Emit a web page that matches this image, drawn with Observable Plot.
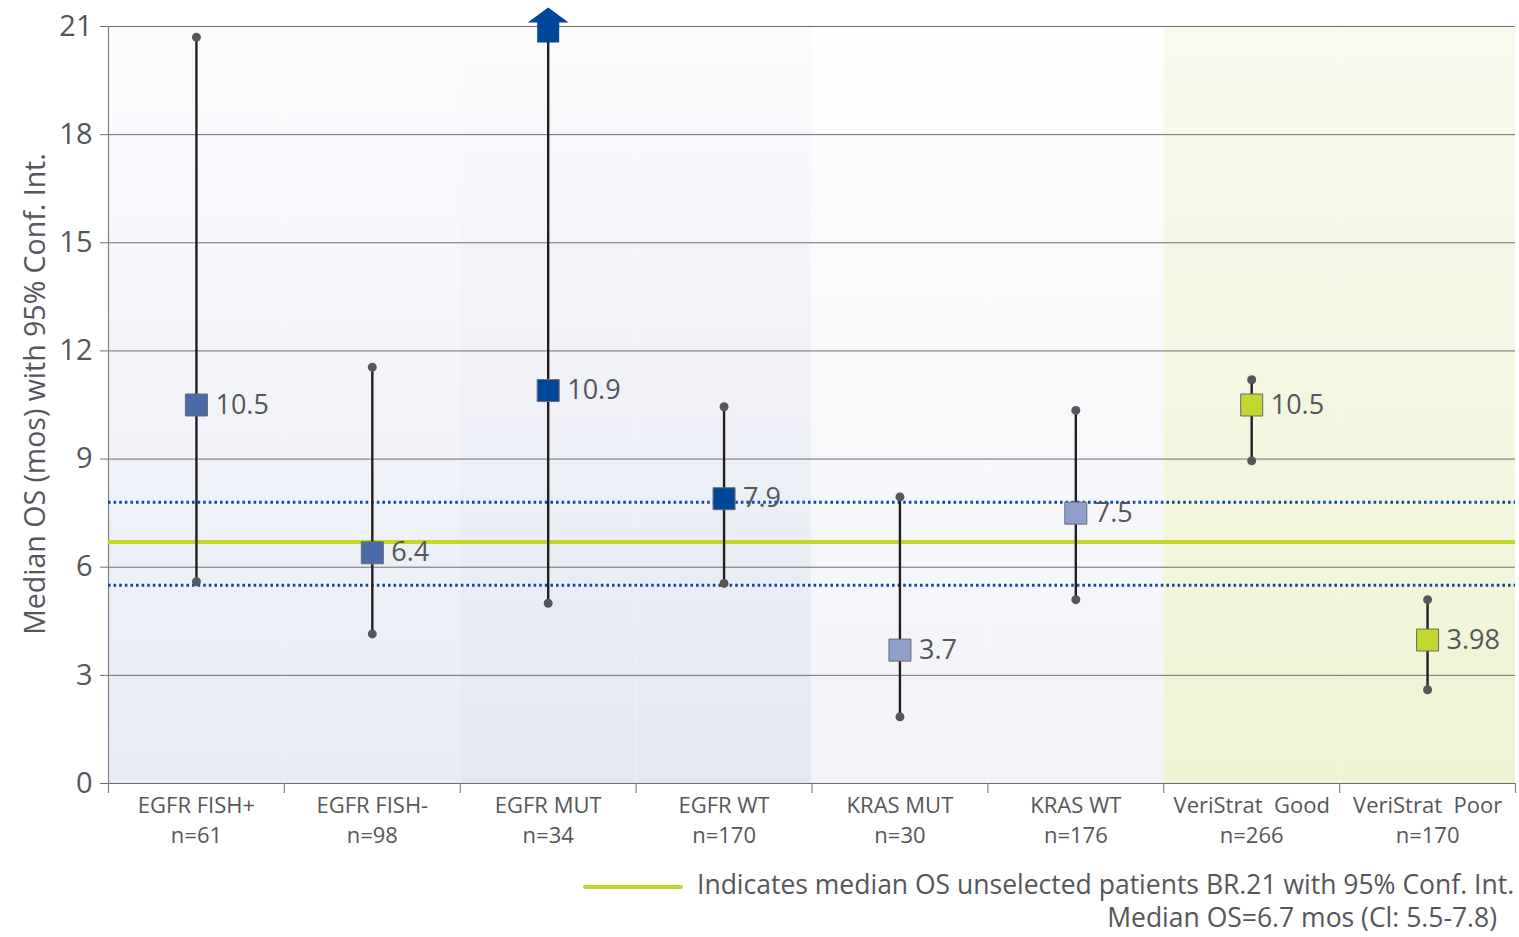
<!DOCTYPE html>
<html><head><meta charset="utf-8">
<script src="https://cdn.jsdelivr.net/npm/d3@7"></script>
<script src="https://cdn.jsdelivr.net/npm/@observablehq/plot@0.6"></script>
<style>
body{margin:0;background:#fff;font-family:"Open Sans",sans-serif;}
#wrap{position:relative;width:1519px;height:937px;overflow:hidden;}
svg text{white-space:pre;}
.leg{position:absolute;color:#555659;font-family:"Open Sans",sans-serif;font-size:26.5px;white-space:nowrap;line-height:1;}
</style></head><body><div id="wrap"></div>
<script>
// ---- data ----
const categories = ["EGFR FISH+","EGFR FISH-","EGFR MUT","EGFR WT","KRAS MUT","KRAS WT","VeriStrat\u00a0 Good","VeriStrat\u00a0 Poor"];
const sampleSizes = [61,98,34,170,30,176,266,170];
const groups = ["fish","fish","mut","mut","kras","kras","veri","veri"];
const medians = [10.5,6.4,10.9,7.9,3.7,7.5,10.5,3.98];
const ciLower = [5.6,4.15,5.0,5.55,1.85,5.1,8.95,2.6];
const ciUpper = [20.7,11.55,null,10.45,7.95,10.35,11.2,5.1];
const yTicks = [0,3,6,9,12,15,18,21];
const refMedian = [6.7];
const refCI = [5.5,7.8];

const groupColors = {fish:"#4a6aa8", mut:"#00479a", kras:"#8e9fcb", veri:"#c3d72e"};
const bgGradients = {fish:["#fcfcfe","#e8ebf5"], mut:["#fbfbfd","#e4e7f2"], kras:["#fefefe","#f2f3f8"], veri:["#f8faee","#eef3d3"]};

const data = categories.map((c,i)=>({cat:c, n:sampleSizes[i], group:groups[i], med:medians[i], lo:ciLower[i], hi:ciUpper[i]}));
const yMax = 21;

const W = 1519, H = 850, mL = 108, mR = 4, mT = 26, mB = 67;
const bw = (W - mL - mR) / categories.length;
const frameH = H - mT - mB;
const txt = "#555659";
const font = "'Open Sans', sans-serif";

const defs = () => {
  const s = d3.create("svg:defs");
  for (const [g, [c0, c1]] of Object.entries(bgGradients)) {
    const lg = s.append("linearGradient").attr("id", "bg-" + g).attr("x1", 0).attr("y1", 0).attr("x2", 0).attr("y2", 1);
    lg.append("stop").attr("offset", 0).attr("stop-color", c0);
    lg.append("stop").attr("offset", 1).attr("stop-color", c1);
  }
  return s.node();
};

const arrowUp = {draw(ctx){
  ctx.moveTo(0,-19); ctx.lineTo(20.5,-4); ctx.lineTo(11,-4); ctx.lineTo(11,16);
  ctx.lineTo(-11,16); ctx.lineTo(-11,-4); ctx.lineTo(-20.5,-4); ctx.closePath();
}};

const closed = data.filter(d => d.hi != null);
const open = data.filter(d => d.hi == null);

const chart = Plot.plot({
  width: W, height: H,
  marginLeft: mL, marginRight: mR, marginTop: mT, marginBottom: mB,
  style: {fontFamily: font, color: txt, background: "transparent", overflow: "visible"},
  x: {domain: categories, padding: 0, round: false, axis: null},
  y: {domain: [0, yMax], axis: null},
  marks: [
    defs,
    ...Object.keys(groupColors).map(g => Plot.barY(data.filter(d => d.group === g), {x: "cat", y1: 0, y2: yMax, fill: `url(#bg-${g})`})),
    Plot.ruleY(yTicks, {stroke: "#6d6e71", strokeWidth: 1, insetLeft: -8}),
    Plot.ruleX([categories[0]], {x: d => d, dx: -bw/2, stroke: "#808285", strokeWidth: 1.2, insetBottom: -10}),
    Plot.ruleX(categories.slice(1), {x: d => d, dx: -bw/2, stroke: "#808285", strokeWidth: 1.2, insetTop: frameH, insetBottom: -10}),
    Plot.ruleX([categories[categories.length-1]], {x: d => d, dx: bw/2, stroke: "#808285", strokeWidth: 1.2, insetTop: frameH, insetBottom: -10}),
    Plot.ruleY(refCI, {stroke: "#0f4c9c", strokeWidth: 3, strokeDasharray: "2.6 3"}),
    Plot.ruleY(refMedian, {stroke: "#c4d62a", strokeWidth: 4}),
    Plot.ruleX(data, {x: "cat", y1: "lo", y2: d => d.hi ?? yMax, stroke: "#231f20", strokeWidth: 2.4}),
    Plot.dot(closed, {x: "cat", y: "hi", r: 4.5, fill: "#55575b"}),
    Plot.dot(data, {x: "cat", y: "lo", r: 4.5, fill: "#55575b"}),
    Plot.dot(open, {x: "cat", y: () => yMax, symbol: arrowUp, r: 10, fill: d => groupColors[d.group], stroke: "none"}),
    Plot.dot(data, {x: "cat", y: "med", symbol: "square", r: 12.4, fill: d => groupColors[d.group], stroke: "#6a6b6e", strokeWidth: 1}),
    Plot.text(data, {x: "cat", y: "med", text: d => String(d.med), dx: 19, textAnchor: "start", fontSize: 27, fill: txt}),
    Plot.axisY(yTicks, {tickSize: 0, tickPadding: 16, fontSize: 29, fill: txt, label: null}),
    Plot.axisX({tickSize: 0, tickPadding: 8, fontSize: 22, lineHeight: 1.36, fill: txt, label: null,
      tickFormat: d => `${d}\nn=${sampleSizes[categories.indexOf(d)]}`}),
    Plot.text(["Median OS (mos) with 95% Conf. Int."], {text: d => d, frameAnchor: "left", textAnchor: "middle", rotate: -90, dx: -73, dy: -11, fontSize: 28.5, fill: txt})
  ]
});

const wrap = document.getElementById("wrap");
wrap.appendChild(chart);

const legLine = document.createElement("div");
Object.assign(legLine.style, {position:"absolute", left:"583px", top:"885px", width:"100px", height:"4px", background:"#c4d62a", borderRadius:"2px"});
wrap.appendChild(legLine);

const leg1 = document.createElement("div");
leg1.className = "leg";
leg1.textContent = "Indicates median OS unselected patients BR.21 with 95% Conf. Int.";
Object.assign(leg1.style, {left:"697px", top:"871px"});
wrap.appendChild(leg1);

const leg2 = document.createElement("div");
leg2.className = "leg";
leg2.textContent = `Median OS=${refMedian[0]} mos (Cl: ${refCI[0]}-${refCI[1]})`;
Object.assign(leg2.style, {right:`${1519-1497}px`, top:"904px"});
wrap.appendChild(leg2);
</script>
</body></html>
